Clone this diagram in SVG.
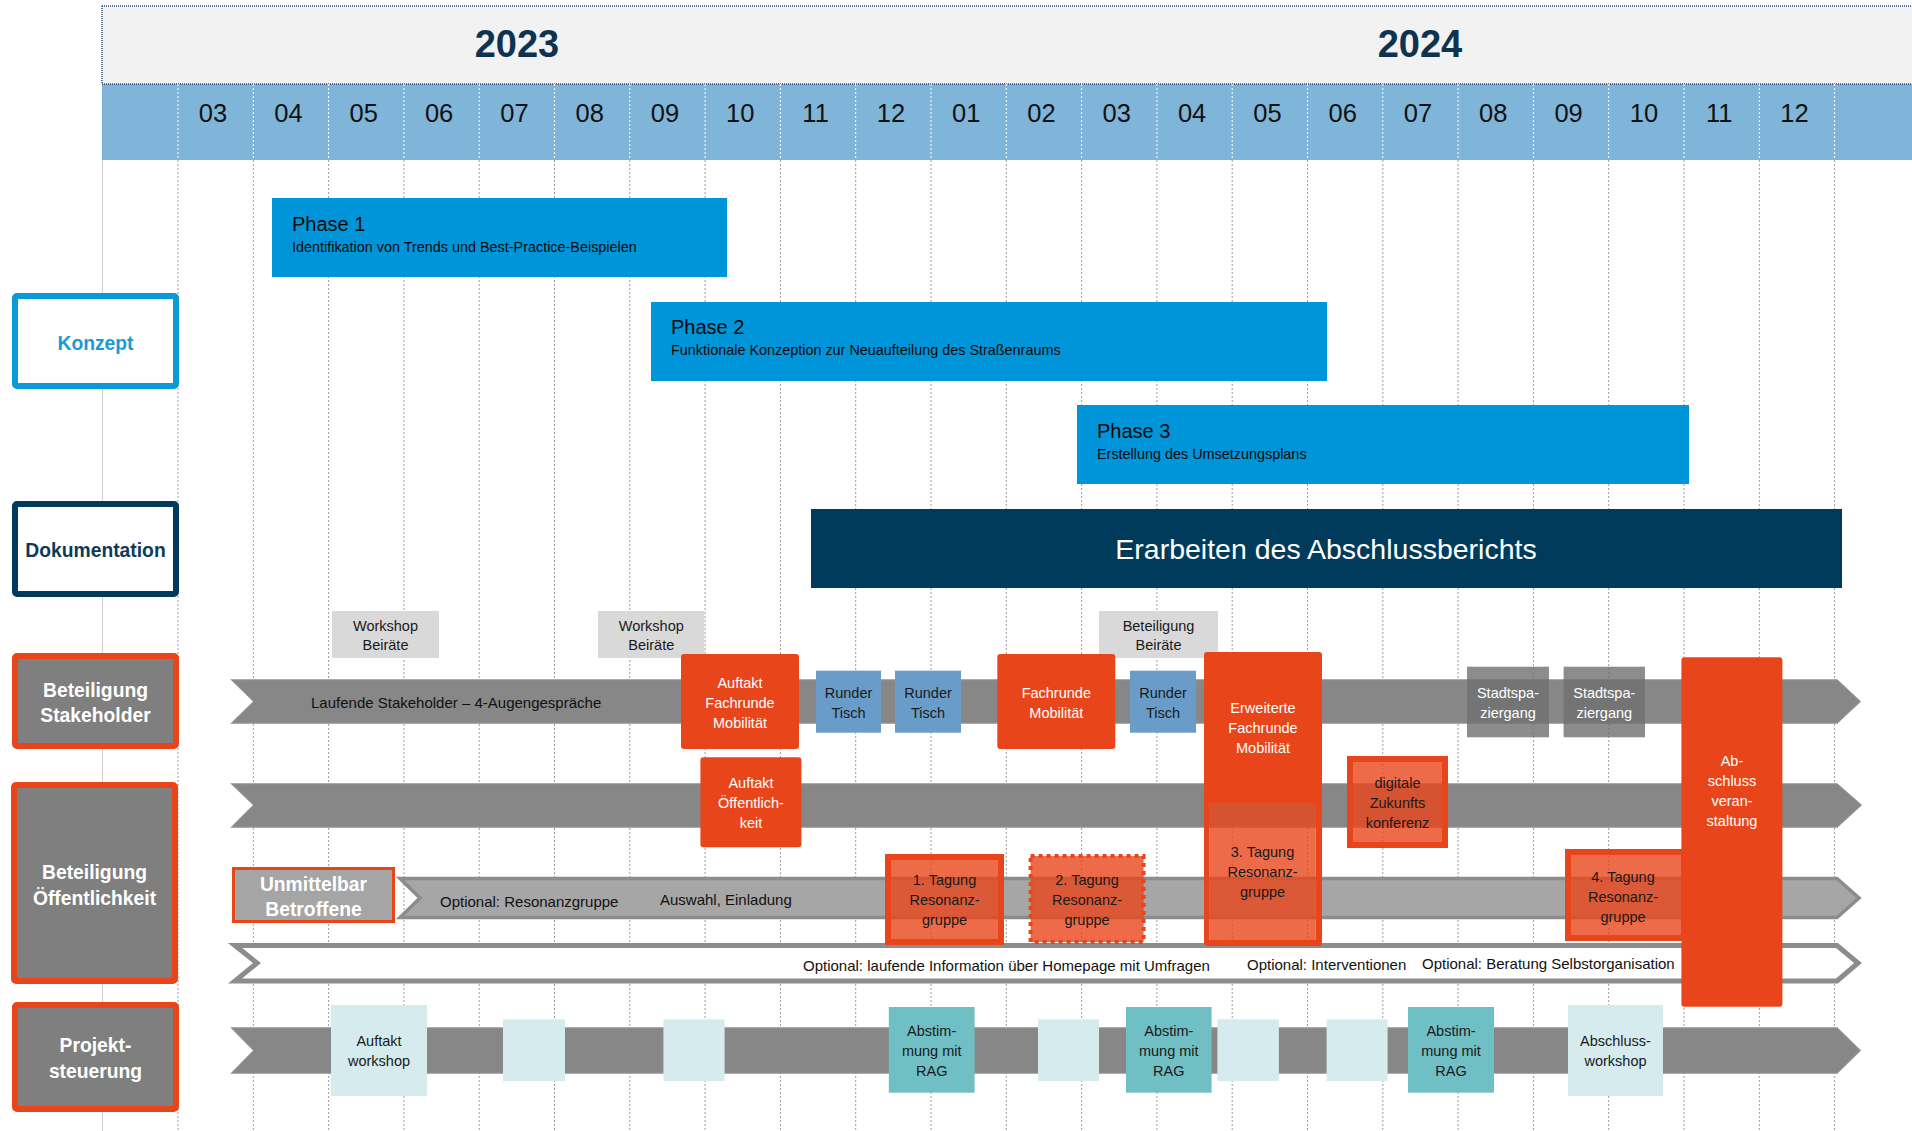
<svg xmlns="http://www.w3.org/2000/svg" width="1912" height="1131" viewBox="0 0 1912 1131">
<style>
text{font-family:"Liberation Sans",Arial,sans-serif}
.yr{font-size:38px;font-weight:bold;fill:#0d3350;text-anchor:middle}
.mo{font-size:25.5px;fill:#111;text-anchor:middle}
.grid{stroke:#9c9c9c;stroke-width:1;stroke-dasharray:2 2;fill:none}
.gridw{stroke:#ffffff;stroke-width:1;stroke-dasharray:2 2;fill:none}
.phase{fill:#0095d8}
.pt{font-size:20px;fill:#0a0a0a}
.ps{font-size:14.4px;fill:#0a0a0a}
.hd{font-size:19.3px;font-weight:bold;text-anchor:middle}
.hdw{font-size:19.3px;font-weight:bold;text-anchor:middle;fill:#fff}
.side{fill:#7f7f7f;stroke:#e8461a;stroke-width:6}
.bar{fill:#878787;stroke:#8e8e8e;stroke-width:1.5}
.bar3{fill:#a6a6a6;stroke:#8c8c8c;stroke-width:3.5}
.bar4{fill:#ffffff;stroke:#8c8c8c;stroke-width:5}
.bt{font-size:15px;fill:#111}
.l{font-size:14.5px;text-anchor:middle;fill:#1a1a1a}
.lw{font-size:14.5px;text-anchor:middle;fill:#ffffff}
.or{fill:#e8461a}
.orl{fill:#e8461a;fill-opacity:0.8;stroke:#e8461a;stroke-width:6}
.ws{fill:#d9d9d9}
.rt{fill:#6a9cc9}
.sp{fill:#6f6f6f;fill-opacity:0.8}
.lt{fill:#d5ebee}
.tl{fill:#6fbfc4}
</style>

<g id="header">
  <rect x="102" y="6" width="1810" height="78" fill="#f2f2f2"/>
  <rect x="102" y="84" width="1810" height="76" fill="#7fb5d8"/>
  <line x1="102" y1="6" x2="1912" y2="6" stroke="#2e4a6b" stroke-width="1.5" stroke-dasharray="1 1"/>
  <line x1="102" y1="84" x2="1912" y2="84" stroke="#2e4a6b" stroke-width="1.5" stroke-dasharray="1 1"/>
  <line x1="102" y1="6" x2="102" y2="84" stroke="#2e4a6b" stroke-width="1.5" stroke-dasharray="1 1"/>
  <text class="yr" x="517" y="57">2023</text>
  <text class="yr" x="1420" y="57">2024</text>
</g>

<g id="grid">
  <line x1="102.5" y1="160" x2="102.5" y2="1131" stroke="#cfcfcf" stroke-width="1"/>
  <path class="gridw" d="M178,84V160M253.3,84V160M328.6,84V160M403.9,84V160M479.2,84V160M554.5,84V160M629.8,84V160M705.1,84V160M780.4,84V160M855.7,84V160M931,84V160M1006.3,84V160M1081.6,84V160M1156.9,84V160M1232.2,84V160M1307.5,84V160M1382.8,84V160M1458.1,84V160M1533.4,84V160M1608.7,84V160M1684,84V160M1759.3,84V160M1834.6,84V160"/>
  <path class="grid" d="M178,160V1131M253.3,160V1131M328.6,160V1131M403.9,160V1131M479.2,160V1131M554.5,160V1131M629.8,160V1131M705.1,160V1131M780.4,160V1131M855.7,160V1131M931,160V1131M1006.3,160V1131M1081.6,160V1131M1156.9,160V1131M1232.2,160V1131M1307.5,160V1131M1382.8,160V1131M1458.1,160V1131M1533.4,160V1131M1608.7,160V1131M1684,160V1131M1759.3,160V1131M1834.6,160V1131"/>
</g>

<g id="months">
  <text class="mo" x="213" y="122">03</text>
  <text class="mo" x="288.5" y="122">04</text>
  <text class="mo" x="363.8" y="122">05</text>
  <text class="mo" x="439.1" y="122">06</text>
  <text class="mo" x="514.4" y="122">07</text>
  <text class="mo" x="589.7" y="122">08</text>
  <text class="mo" x="665" y="122">09</text>
  <text class="mo" x="740.3" y="122">10</text>
  <text class="mo" x="815.6" y="122">11</text>
  <text class="mo" x="890.9" y="122">12</text>
  <text class="mo" x="966.2" y="122">01</text>
  <text class="mo" x="1041.5" y="122">02</text>
  <text class="mo" x="1116.8" y="122">03</text>
  <text class="mo" x="1192.1" y="122">04</text>
  <text class="mo" x="1267.4" y="122">05</text>
  <text class="mo" x="1342.7" y="122">06</text>
  <text class="mo" x="1418" y="122">07</text>
  <text class="mo" x="1493.3" y="122">08</text>
  <text class="mo" x="1568.6" y="122">09</text>
  <text class="mo" x="1643.9" y="122">10</text>
  <text class="mo" x="1719.2" y="122">11</text>
  <text class="mo" x="1794.5" y="122">12</text>
</g>

<g id="label-konzept">
  <rect x="15" y="296" width="161" height="90" rx="2" fill="#fff" stroke="#0a9ad8" stroke-width="6"/>
  <text class="hd" x="95.5" y="350" fill="#1b9ad6">Konzept</text>
</g>
<g id="label-dokumentation">
  <rect x="15" y="504" width="161" height="90" rx="2" fill="#fff" stroke="#003b5c" stroke-width="6"/>
  <text class="hd" x="95.5" y="557" fill="#0e3a5a">Dokumentation</text>
</g>
<g id="label-stakeholder">
  <rect class="side" x="15" y="656" width="161" height="90" rx="2"/>
  <text class="hdw" x="95.5" y="697">Beteiligung</text>
  <text class="hdw" x="95.5" y="722">Stakeholder</text>
</g>
<g id="label-oeffentlichkeit">
  <rect class="side" x="14" y="785" width="161" height="196" rx="2"/>
  <text class="hdw" x="94.5" y="879">Beteiligung</text>
  <text class="hdw" x="94.5" y="905">Öffentlichkeit</text>
</g>
<g id="label-projekt">
  <rect class="side" x="15" y="1005" width="161" height="104" rx="2"/>
  <text class="hdw" x="95.5" y="1052">Projekt-</text>
  <text class="hdw" x="95.5" y="1078">steuerung</text>
</g>

<g id="phase1">
  <rect class="phase" x="272" y="198" width="455" height="79"/>
  <text class="pt" x="292" y="231">Phase 1</text>
  <text class="ps" x="292" y="252">Identifikation von Trends und Best-Practice-Beispielen</text>
</g>
<g id="phase2">
  <rect class="phase" x="651" y="302" width="676" height="79"/>
  <text class="pt" x="671" y="334">Phase 2</text>
  <text class="ps" x="671" y="355">Funktionale Konzeption zur Neuaufteilung des Straßenraums</text>
</g>
<g id="phase3">
  <rect class="phase" x="1077" y="405" width="612" height="79"/>
  <text class="pt" x="1097" y="438">Phase 3</text>
  <text class="ps" x="1097" y="459">Erstellung des Umsetzungsplans</text>
</g>
<g id="abschlussbericht">
  <rect x="811" y="509" width="1031" height="79" fill="#003b5c"/>
  <text x="1326" y="559" font-size="28.5" fill="#fff" text-anchor="middle">Erarbeiten des Abschlussberichts</text>
</g>

<g id="lanes">
  <polygon class="bar" points="232,680 1837,680 1860,701.5 1837,723 232,723 254,701.5"/>
  <polygon class="bar" points="232,784 1837,784 1861,805 1837,827 232,827 254,805"/>
  <polygon class="bar3" points="400,878.5 1837,878.5 1859,898 1837,917.5 400,917.5 420,898"/>
  <polygon class="bar4" points="235,945.5 1837,945.5 1858,963 1837,981 235,981 257,963"/>
  <polygon class="bar" points="232,1028 1837,1028 1860,1050.5 1837,1073 232,1073 254,1050.5"/>
  <text class="bt" x="311" y="708">Laufende Stakeholder – 4-Augengespräche</text>
  <text class="bt" x="440" y="906.5">Optional: Resonanzgruppe</text>
  <text class="bt" x="660" y="905">Auswahl, Einladung</text>
  <text class="bt" x="803" y="970.5">Optional: laufende Information über Homepage mit Umfragen</text>
  <text class="bt" x="1247" y="970">Optional: Interventionen</text>
  <text class="bt" x="1422" y="968.5" fill="#3a3a3a">Optional: Beratung Selbstorganisation</text>
</g>

<g id="unmittelbar">
  <rect x="233.5" y="868.5" width="160" height="53" fill="#a5a5a5" stroke="#e8461a" stroke-width="3"/>
  <text class="hdw" x="313.5" y="890.5">Unmittelbar</text>
  <text class="hdw" x="313.5" y="916">Betroffene</text>
</g>

<g id="workshop-beiraete-1">
  <rect class="ws" x="332" y="611" width="107" height="47"/>
  <text class="l" x="385.5" y="630.5" fill="#333">Workshop</text>
  <text class="l" x="385.5" y="650" fill="#333">Beiräte</text>
</g>
<g id="workshop-beiraete-2">
  <rect class="ws" x="598" y="611" width="106.5" height="47"/>
  <text class="l" x="651.3" y="630.5" fill="#333">Workshop</text>
  <text class="l" x="651.3" y="650" fill="#333">Beiräte</text>
</g>
<g id="beteiligung-beiraete">
  <rect class="ws" x="1099" y="611" width="119" height="47"/>
  <text class="l" x="1158.5" y="630.5" fill="#333">Beteiligung</text>
  <text class="l" x="1158.5" y="650" fill="#333">Beiräte</text>
</g>

<g id="auftakt-fachrunde">
  <rect class="or" x="681" y="654" width="118" height="95" rx="3"/>
  <text class="lw" x="740" y="688.3">Auftakt</text>
  <text class="lw" x="740" y="708.3">Fachrunde</text>
  <text class="lw" x="740" y="728.3">Mobilität</text>
</g>
<g id="auftakt-oeffentlichkeit">
  <rect class="or" x="700.4" y="757.3" width="101" height="90" rx="3"/>
  <text class="lw" x="751" y="787.7">Auftakt</text>
  <text class="lw" x="751" y="807.7">Öffentlich-</text>
  <text class="lw" x="751" y="827.7">keit</text>
</g>
<g id="runder-tisch-1">
  <rect class="rt" x="816" y="670.7" width="65" height="62"/>
  <text class="l" x="848.5" y="698.3">Runder</text>
  <text class="l" x="848.5" y="718.3">Tisch</text>
</g>
<g id="runder-tisch-2">
  <rect class="rt" x="895" y="670.7" width="66" height="62"/>
  <text class="l" x="928" y="698.3">Runder</text>
  <text class="l" x="928" y="718.3">Tisch</text>
</g>
<g id="fachrunde-mobilitaet">
  <rect class="or" x="997.3" y="654" width="118" height="95" rx="3"/>
  <text class="lw" x="1056.3" y="698.3">Fachrunde</text>
  <text class="lw" x="1056.3" y="718.3">Mobilität</text>
</g>
<g id="runder-tisch-3">
  <rect class="rt" x="1130" y="670.7" width="66" height="62"/>
  <text class="l" x="1163" y="698.3">Runder</text>
  <text class="l" x="1163" y="718.3">Tisch</text>
</g>

<g id="tagung-1">
  <rect class="orl" x="888" y="857" width="113" height="85"/>
  <text class="l" x="944.5" y="885">1. Tagung</text>
  <text class="l" x="944.5" y="905">Resonanz-</text>
  <text class="l" x="944.5" y="925">gruppe</text>
</g>
<g id="tagung-2">
  <rect x="1030.6" y="856" width="113" height="86" fill="#e8461a" fill-opacity="0.8" stroke="#e8461a" stroke-width="4" stroke-dasharray="4 4"/>
  <text class="l" x="1087" y="885">2. Tagung</text>
  <text class="l" x="1087" y="905">Resonanz-</text>
  <text class="l" x="1087" y="925">gruppe</text>
</g>

<g id="erweiterte-fachrunde">
  <path class="or" fill-rule="evenodd" d="M1207,652H1319Q1322,652 1322,655V943Q1322,946 1319,946H1207Q1204,946 1204,943V655Q1204,652 1207,652ZM1209.5,803V940H1315.5V803Z"/>
  <text class="lw" x="1263" y="713">Erweiterte</text>
  <text class="lw" x="1263" y="733">Fachrunde</text>
  <text class="lw" x="1263" y="753">Mobilität</text>
</g>
<g id="tagung-3">
  <rect x="1209.5" y="803" width="106" height="137" fill="#e8461a" fill-opacity="0.8"/>
  <text class="l" x="1262.5" y="857">3. Tagung</text>
  <text class="l" x="1262.5" y="877">Resonanz-</text>
  <text class="l" x="1262.5" y="897">gruppe</text>
</g>

<g id="zukunftskonferenz">
  <rect class="orl" x="1350" y="759" width="95" height="86"/>
  <text class="l" x="1397.5" y="788.3">digitale</text>
  <text class="l" x="1397.5" y="808.3">Zukunfts</text>
  <text class="l" x="1397.5" y="828.3">konferenz</text>
</g>

<g id="stadtspaziergang-1">
  <rect class="sp" x="1467" y="666.7" width="82" height="70.6"/>
  <text class="lw" x="1508" y="698.3" fill="#f2f2f2">Stadtspa-</text>
  <text class="lw" x="1508" y="718.3" fill="#f2f2f2">ziergang</text>
</g>
<g id="stadtspaziergang-2">
  <rect class="sp" x="1563.6" y="666.7" width="81.4" height="70.6"/>
  <text class="lw" x="1604.3" y="698.3" fill="#f2f2f2">Stadtspa-</text>
  <text class="lw" x="1604.3" y="718.3" fill="#f2f2f2">ziergang</text>
</g>

<g id="tagung-4">
  <rect class="orl" x="1568" y="852" width="116" height="86"/>
  <text class="l" x="1623" y="881.7">4. Tagung</text>
  <text class="l" x="1623" y="901.7">Resonanz-</text>
  <text class="l" x="1623" y="921.7">gruppe</text>
</g>

<g id="abschlussveranstaltung">
  <rect class="or" x="1681.4" y="657.3" width="101" height="349.4" rx="3"/>
  <text class="lw" x="1732" y="766">Ab-</text>
  <text class="lw" x="1732" y="786">schluss</text>
  <text class="lw" x="1732" y="806">veran-</text>
  <text class="lw" x="1732" y="826">staltung</text>
</g>

<g id="auftakt-workshop">
  <rect class="lt" x="331" y="1005" width="96" height="91"/>
  <text class="l" x="379" y="1046">Auftakt</text>
  <text class="l" x="379" y="1066">workshop</text>
</g>
<g id="ps-slot-1"><rect class="lt" x="503" y="1019.3" width="62" height="61.7"/></g>
<g id="ps-slot-2"><rect class="lt" x="663.4" y="1019.3" width="61.2" height="61.7"/></g>
<g id="abstimmung-1">
  <rect class="tl" x="888.8" y="1007" width="85.8" height="85.7"/>
  <text class="l" x="931.7" y="1036">Abstim-</text>
  <text class="l" x="931.7" y="1056">mung mit</text>
  <text class="l" x="931.7" y="1076">RAG</text>
</g>
<g id="ps-slot-3"><rect class="lt" x="1038" y="1019.3" width="61" height="61.7"/></g>
<g id="abstimmung-2">
  <rect class="tl" x="1126" y="1007" width="85.6" height="85.7"/>
  <text class="l" x="1168.8" y="1036">Abstim-</text>
  <text class="l" x="1168.8" y="1056">mung mit</text>
  <text class="l" x="1168.8" y="1076">RAG</text>
</g>
<g id="ps-slot-4"><rect class="lt" x="1217.4" y="1019.3" width="61.5" height="61.7"/></g>
<g id="ps-slot-5"><rect class="lt" x="1326.6" y="1019.3" width="61" height="61.7"/></g>
<g id="abstimmung-3">
  <rect class="tl" x="1408" y="1007" width="86" height="85.7"/>
  <text class="l" x="1451" y="1036">Abstim-</text>
  <text class="l" x="1451" y="1056">mung mit</text>
  <text class="l" x="1451" y="1076">RAG</text>
</g>
<g id="abschlussworkshop">
  <rect class="lt" x="1568" y="1005" width="95" height="91"/>
  <text class="l" x="1615.5" y="1046">Abschluss-</text>
  <text class="l" x="1615.5" y="1066">workshop</text>
</g>
</svg>
